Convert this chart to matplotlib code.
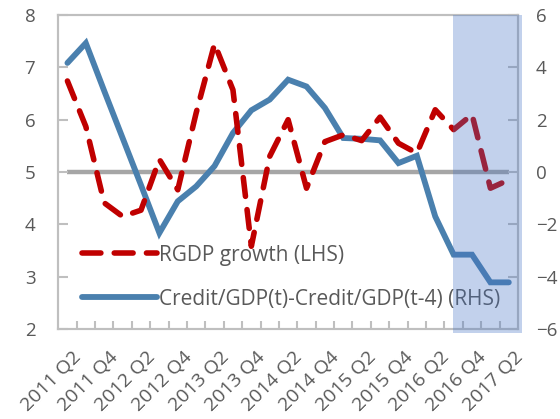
import matplotlib
matplotlib.use("Agg")
import matplotlib.pyplot as plt
import matplotlib.transforms as mtransforms
from matplotlib.lines import Line2D

plt.rcParams['font.family'] = ['Open Sans', 'DejaVu Sans']

quarters = ["2011 Q2", "2011 Q3", "2011 Q4", "2012 Q1", "2012 Q2", "2012 Q3", "2012 Q4",
            "2013 Q1", "2013 Q2", "2013 Q3", "2013 Q4", "2014 Q1", "2014 Q2", "2014 Q3",
            "2014 Q4", "2015 Q1", "2015 Q2", "2015 Q3", "2015 Q4", "2016 Q1", "2016 Q2",
            "2016 Q3", "2016 Q4", "2017 Q1", "2017 Q2"]

# LHS, percent
rgdp = [6.74, 5.87, 4.41, 4.15, 4.27, 5.24, 4.66, 6.13, 7.45, 6.57, 3.58, 5.30, 6.0,
        4.69, 5.58, 5.71, 5.60, 6.05, 5.55, 5.36, 6.19, 5.81, 6.10, 4.69, 4.85]
# RHS, pp
credit_gap = [4.17, 4.93, 3.1, 1.3, -0.5, -2.33, -1.12, -0.55, 0.23, 1.49, 2.36, 2.77, 3.53,
              3.27, 2.45, 1.30, 1.27, 1.21, 0.34, 0.62, -1.70, -3.16, -3.16, -4.22, -4.22]

forecast_start = "2016 Q3"

grey = "#595959"
axis_col = "#BFBFBF"
red = "#C00000"
blue = "#4A80AE"

fig = plt.figure(figsize=(5.6, 4.19), dpi=100)
ax = fig.add_axes([0.104, 0.215, 0.821, 0.749])
ax2 = ax.twinx()
# red on top of blue
ax.set_zorder(ax2.get_zorder() + 1)
ax.patch.set_visible(False)

x = list(range(len(quarters)))

ax2.hlines(0, x[0], x[-1], color="#A6A6A6", lw=3.2, zorder=1)
ax2.plot(x, credit_gap, color=blue, lw=4.2, solid_capstyle="round", solid_joinstyle="miter", zorder=2)
ax.plot(x, rgdp, color=red, lw=4, dashes=(3.4, 2.4), dash_capstyle="round", zorder=3)

ax.set_xlim(-0.5, len(quarters) - 0.5)
ax.set_ylim(2, 8)
ax2.set_ylim(-6, 6)
ax.set_yticks(range(2, 9))
ax2.set_yticks(range(-6, 7, 2))

ax.set_xticks(x[::2])
ax.set_xticklabels(quarters[::2], rotation=45, ha="right", rotation_mode="anchor")
ax.set_xticks([i + 0.5 for i in x[:-1]], minor=True)

for a in (ax, ax2):
    for s in a.spines.values():
        s.set_color(axis_col)
        s.set_linewidth(1.5)
    a.tick_params(colors=grey, labelsize=13.5)
ax.tick_params(axis="y", direction="in", length=7, width=1.5, color=axis_col, pad=16.5)
ax2.tick_params(axis="y", direction="in", length=7, width=1.5, color=axis_col, pad=13)
ax.tick_params(axis="x", which="major", length=0, pad=14, labelsize=14)
ax.tick_params(axis="x", which="minor", direction="in", length=6, width=1.5, color=axis_col)
ax2.tick_params(axis="x", length=0)
shift = mtransforms.ScaledTranslation(5 / 100, 0, fig.dpi_scale_trans)
for lab in ax.get_xticklabels():
    lab.set_transform(lab.get_transform() + shift)

# shaded projection period, drawn over the lines
i0 = quarters.index(forecast_start)
ax.axvspan(i0 - 0.05, len(quarters) - 0.26, ymin=-0.013, ymax=1.0,
           color="#4472C4", alpha=0.32, lw=0, zorder=10, clip_on=False)

handles = [Line2D([], [], color=red, lw=4, dashes=(3.4, 2.4), dash_capstyle="round"),
           Line2D([], [], color=blue, lw=4.2, solid_capstyle="round")]
labels = ["RGDP growth (LHS)", "Credit/GDP(t)-Credit/GDP(t-4) (RHS)"]
leg = ax.legend(handles, labels, loc="lower left", bbox_to_anchor=(0.033, 0.035),
                frameon=False, fontsize=15, handlelength=3.6, handletextpad=0.12,
                labelspacing=1.1, borderaxespad=0)
for t in leg.get_texts():
    t.set_color(grey)

fig.savefig("out.png", dpi=100)
